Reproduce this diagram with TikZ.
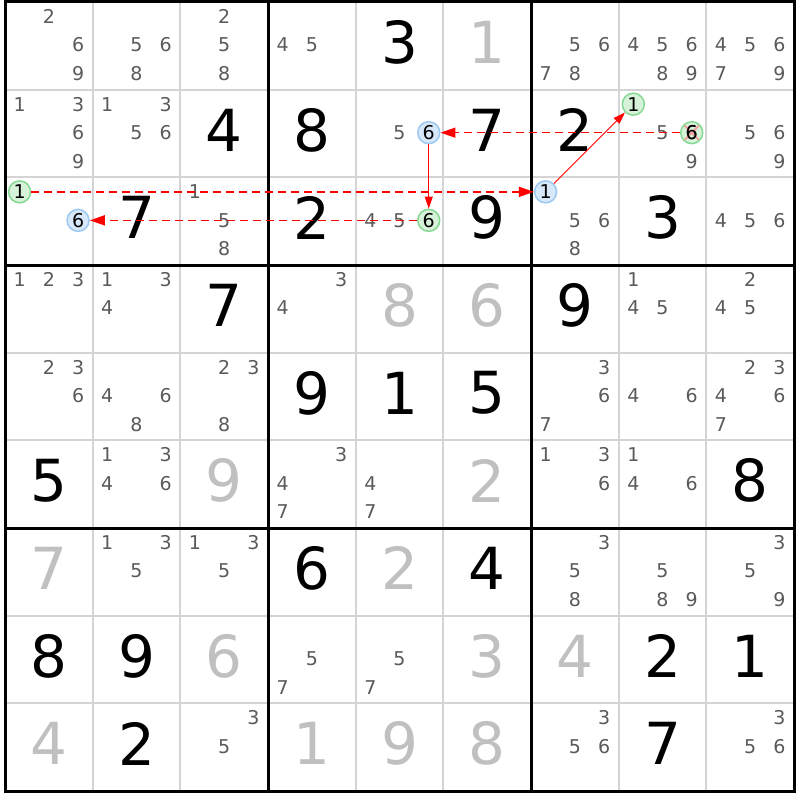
\documentclass[tikz,border=0pt]{standalone}
\usepackage{fontspec}
\setmainfont{DejaVu Sans}
\usetikzlibrary{arrows.meta}
\definecolor{candgray}{HTML}{5A5A5A}
\definecolor{solvgray}{HTML}{C0C0C0}
\definecolor{thingrid}{HTML}{D4D4D4}
\definecolor{hlblue}{HTML}{D6E8FA}
\definecolor{hlblueb}{HTML}{9DC8F2}
\definecolor{hlgreen}{HTML}{D6F2D8}
\definecolor{hlgreenb}{HTML}{86D894}
\definecolor{linkred}{HTML}{FF0000}
\definecolor{xpink}{HTML}{F0A0A0}
\tikzset{
  cand/.style={text=candgray, font=\fontsize{19}{19}\selectfont, inner sep=0pt},
  given/.style={text=black, font=\fontsize{58}{58}\selectfont, inner sep=0pt},
  solved/.style={given, text=solvgray},
  hlb/.style={circle, draw=hlblueb, fill=hlblue, line width=1.5pt, minimum size=22pt,
    inner sep=0pt, font=\fontsize{19}{19}\selectfont, text=black},
  hlg/.style={hlb, draw=hlgreenb, fill=hlgreen},
  hltext/.style={inner sep=0pt, font=\fontsize{19}{19}\selectfont, text=black},
  xline/.style={draw=xpink, line width=2pt},
  dashlink/.style={draw=linkred, line width=1.5pt, dash pattern=on 8pt off 5pt,
    -{Triangle[length=15pt,width=10pt]}},
  solidlink/.style={draw=linkred, line width=0.9pt, -{Triangle[length=12pt,width=8pt]}},
  thinline/.style={draw=thingrid, line width=2pt},
  boxline/.style={draw=black, line width=3pt}
}
\newcommand\cellcands[3]{%
  \foreach \d in {#3}{%
    \pgfmathtruncatemacro\kk{mod(\d-1,3)}%
    \pgfmathtruncatemacro\mm{floor((\d-1)/3)}%
    \node[cand] (r#1c#2n\d) at ({5+(#2-1)*87.67+(\kk+0.5)*29.22},{-(2+(#1-1)*87.67+\mm*28.5+14.5)}) {\d};
  }}
\newcommand\hlcand[5]{%
  \pgfmathsetmacro\hx{5+(#3-1)*87.67+(mod(#4-1,3)+0.5)*29.22}%
  \pgfmathsetmacro\hy{-(2+(#2-1)*87.67+floor((#4-1)/3)*28.5+14.5)}%
  \node[#1] (#5) at (\hx,\hy) {#4};}
\newcommand\bigd[4]{%
  \node[#1] (r#2c#3) at ({5+(#3-0.5)*87.67},{-(2+(#2-0.5)*87.67)+3.5}) {#4};}
\begin{document}
\begin{tikzpicture}[x=1pt,y=1pt]
\useasboundingbox (0,0) rectangle (800,-800);
\fill[white] (0,0) rectangle (800,-800);
% thin grid
\foreach \i in {1,2,4,5,7,8}{
  \draw[thinline] ({5+\i*87.67},-2) -- ({5+\i*87.67},-791.03);
  \draw[thinline] (5,{-(2+\i*87.67)}) -- (794.03,{-(2+\i*87.67)});
}
\foreach \i in {3,6}{
  \draw[boxline] ({5+\i*87.67},-2) -- ({5+\i*87.67},-791.03);
  \draw[boxline] (5,{-(2+\i*87.67)}) -- (794.03,{-(2+\i*87.67)});
}
\draw[boxline] (5,-2) rectangle (794.03,-791.03);
% row 1
\cellcands{1}{1}{2,6,9}
\cellcands{1}{2}{5,6,8}
\cellcands{1}{3}{2,5,8}
\cellcands{1}{4}{4,5}
\bigd{given}{1}{5}{3}
\bigd{solved}{1}{6}{1}
\cellcands{1}{7}{5,6,7,8}
\cellcands{1}{8}{4,5,6,8,9}
\cellcands{1}{9}{4,5,6,7,9}
% row 2
\cellcands{2}{1}{1,3,6,9}
\cellcands{2}{2}{1,3,5,6}
\bigd{given}{2}{3}{4}
\bigd{given}{2}{4}{8}
\cellcands{2}{5}{5}
\bigd{given}{2}{6}{7}
\bigd{given}{2}{7}{2}
\cellcands{2}{8}{5,9}
\cellcands{2}{9}{5,6,9}
% row 3
\bigd{given}{3}{2}{7}
\cellcands{3}{3}{1,5,8}
\bigd{given}{3}{4}{2}
\cellcands{3}{5}{4,5}
\bigd{given}{3}{6}{9}
\cellcands{3}{7}{5,6,8}
\bigd{given}{3}{8}{3}
\cellcands{3}{9}{4,5,6}
% row 4
\cellcands{4}{1}{1,2,3}
\cellcands{4}{2}{1,3,4}
\bigd{given}{4}{3}{7}
\cellcands{4}{4}{3,4}
\bigd{solved}{4}{5}{8}
\bigd{solved}{4}{6}{6}
\bigd{given}{4}{7}{9}
\cellcands{4}{8}{1,4,5}
\cellcands{4}{9}{2,4,5}
% row 5
\cellcands{5}{1}{2,3,6}
\cellcands{5}{2}{4,6,8}
\cellcands{5}{3}{2,3,8}
\bigd{given}{5}{4}{9}
\bigd{given}{5}{5}{1}
\bigd{given}{5}{6}{5}
\cellcands{5}{7}{3,6,7}
\cellcands{5}{8}{4,6}
\cellcands{5}{9}{2,3,4,6,7}
% row 6
\bigd{given}{6}{1}{5}
\cellcands{6}{2}{1,3,4,6}
\bigd{solved}{6}{3}{9}
\cellcands{6}{4}{3,4,7}
\cellcands{6}{5}{4,7}
\bigd{solved}{6}{6}{2}
\cellcands{6}{7}{1,3,6}
\cellcands{6}{8}{1,4,6}
\bigd{given}{6}{9}{8}
% row 7
\bigd{solved}{7}{1}{7}
\cellcands{7}{2}{1,3,5}
\cellcands{7}{3}{1,3,5}
\bigd{given}{7}{4}{6}
\bigd{solved}{7}{5}{2}
\bigd{given}{7}{6}{4}
\cellcands{7}{7}{3,5,8}
\cellcands{7}{8}{5,8,9}
\cellcands{7}{9}{3,5,9}
% row 8
\bigd{given}{8}{1}{8}
\bigd{given}{8}{2}{9}
\bigd{solved}{8}{3}{6}
\cellcands{8}{4}{5,7}
\cellcands{8}{5}{5,7}
\bigd{solved}{8}{6}{3}
\bigd{solved}{8}{7}{4}
\bigd{given}{8}{8}{2}
\bigd{given}{8}{9}{1}
% row 9
\bigd{solved}{9}{1}{4}
\bigd{given}{9}{2}{2}
\cellcands{9}{3}{3,5}
\bigd{solved}{9}{4}{1}
\bigd{solved}{9}{5}{9}
\bigd{solved}{9}{6}{8}
\cellcands{9}{7}{3,5,6}
\bigd{given}{9}{8}{7}
\cellcands{9}{9}{3,5,6}
% highlighted candidates
\hlcand{hlg}{3}{1}{1}{g31}
\hlcand{hlb}{3}{1}{6}{b31}
\hlcand{hlb}{2}{5}{6}{b25}
\hlcand{hlg}{3}{5}{6}{g35}
\hlcand{hlb}{3}{7}{1}{b37}
\hlcand{hlg}{2}{8}{1}{g28a}
\hlcand{hlg}{2}{8}{6}{g28b}
% eliminated candidate: X, then digit on top
\draw[xline] ([shift={(-7,-7)}]g28b.center) -- ([shift={(7,7)}]g28b.center);
\draw[xline] ([shift={(-7,7)}]g28b.center) -- ([shift={(7,-7)}]g28b.center);
\node[hltext] (g28t) at (g28b.center) {6};
% links
\draw[dashlink] (g31) -- (b37);
\draw[dashlink] (g35) -- (b31);
\draw[solidlink] (b25) -- (g35);
\draw[solidlink] (b37) -- (g28a);
\draw[dashlink] (g28b) -- (b25);
\end{tikzpicture}
\end{document}
